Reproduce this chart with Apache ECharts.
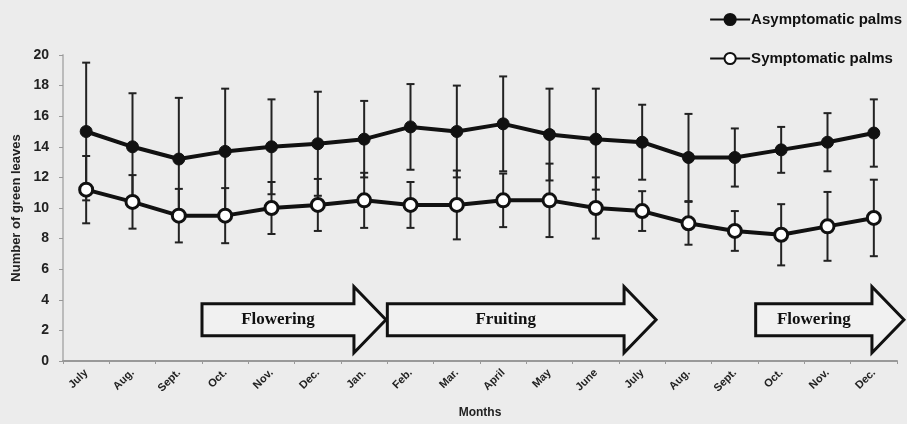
<!DOCTYPE html>
<html lang="en">
<head>
  <meta charset="UTF-8">
  <title>Green leaves</title>
  <script src="https://cdn.jsdelivr.net/npm/echarts@6/dist/echarts.min.js"></script>
  <style>
    html, body { margin: 0; padding: 0; background: #ececec; }
    #chart { width: 907px; height: 424px; }
  </style>
</head>
<body>
  <div id="chart"></div>
  <script>
    // months along the x axis (two seasons)
    var months = ['July', 'Aug.', 'Sept.', 'Oct.', 'Nov.', 'Dec.', 'Jan.', 'Feb.', 'Mar.', 'April',
      'May', 'June', 'July', 'Aug.', 'Sept.', 'Oct.', 'Nov.', 'Dec.']
    // mean number of green leaves and standard deviation
    var asymMean = [15.0, 14.0, 13.2, 13.7, 14.0, 14.2, 14.5, 15.3, 15.0, 15.5, 14.8, 14.5, 14.3, 13.3, 13.3, 13.8, 14.3, 14.9]
    var asymSd = [4.5, 3.5, 4.0, 4.1, 3.1, 3.4, 2.5, 2.8, 3.0, 3.1, 3.0, 3.3, 2.45, 2.85, 1.9, 1.5, 1.9, 2.2]
    var sympMean = [11.2, 10.4, 9.5, 9.5, 10.0, 10.2, 10.5, 10.2, 10.2, 10.5, 10.5, 10.0, 9.8, 9.0, 8.5, 8.25, 8.8, 9.35]
    var sympSd = [2.2, 1.75, 1.75, 1.8, 1.7, 1.7, 1.8, 1.5, 2.25, 1.75, 2.4, 2.0, 1.3, 1.4, 1.3, 2.0, 2.25, 2.5]
    // phenological phases, start / end in category units
    var phases = [
      { name: 'Flowering', from: 2.5, to: 6.47 },
      { name: 'Fruiting', from: 6.5, to: 12.3 },
      { name: 'Flowering', from: 14.45, to: 17.65 }
    ]
    var yTicks = { min: 0, max: 20, interval: 2 }

    function errData(mean, sd) {
      return mean.map(function (m, i) { return [i, m - sd[i], m + sd[i]] })
    }

    function errRender(params, api) {
      var x = api.value(0)
      var lo = api.coord([x, api.value(1)])
      var hi = api.coord([x, api.value(2)])
      var w = 4
      var st = { stroke: '#222', lineWidth: 2 }
      return {
        type: 'group',
        children: [
          { type: 'line', shape: { x1: lo[0], y1: lo[1], x2: hi[0], y2: hi[1] }, style: st },
          { type: 'line', shape: { x1: lo[0] - w, y1: lo[1], x2: lo[0] + w, y2: lo[1] }, style: st },
          { type: 'line', shape: { x1: hi[0] - w, y1: hi[1], x2: hi[0] + w, y2: hi[1] }, style: st }
        ]
      }
    }

    var bold = { fontWeight: 'bold', color: '#222', fontFamily: 'Liberation Sans, sans-serif' }

    var chart = echarts.init(document.getElementById('chart'))
    var option = {
      backgroundColor: '#ececec',
      animation: false,
      grid: { left: 63, right: 10, top: 55, bottom: 57, containLabel: false },
      legend: {
        orient: 'vertical',
        right: 0,
        top: 7,
        itemWidth: 40,
        itemHeight: 14,
        itemGap: 24,
        textStyle: { fontWeight: 'bold', fontSize: 15, color: '#111', fontFamily: 'Liberation Sans, sans-serif', padding: [0, 0, 0, -4] },
        data: ['Asymptomatic palms', 'Symptomatic palms']
      },
      xAxis: {
        type: 'category',
        data: months,
        boundaryGap: true,
        name: 'Months',
        nameLocation: 'middle',
        nameGap: 46,
        nameTextStyle: Object.assign({ fontSize: 12 }, bold),
        axisLine: { lineStyle: { color: '#999', width: 2 } },
        axisTick: { show: true, length: 3, lineStyle: { color: '#999' } },
        axisLabel: Object.assign({ rotate: 45, fontSize: 11, margin: 10, interval: 0 }, bold)
      },
      yAxis: {
        type: 'value',
        min: yTicks.min,
        max: yTicks.max,
        interval: yTicks.interval,
        name: 'Number of green leaves',
        nameLocation: 'middle',
        nameGap: 40,
        nameTextStyle: Object.assign({ fontSize: 13 }, bold),
        axisLine: { show: true, lineStyle: { color: '#bbb', width: 2 } },
        axisTick: { show: true, length: 4, lineStyle: { color: '#999' } },
        axisLabel: Object.assign({ fontSize: 14, margin: 14 }, bold),
        splitLine: { show: false }
      },
      series: [
        {
          type: 'custom',
          name: 'errA',
          renderItem: errRender,
          encode: { x: 0, y: [1, 2] },
          data: errData(asymMean, asymSd),
          z: 1
        },
        {
          type: 'custom',
          name: 'errS',
          renderItem: errRender,
          encode: { x: 0, y: [1, 2] },
          data: errData(sympMean, sympSd),
          z: 1
        },
        {
          type: 'line',
          name: 'Asymptomatic palms',
          data: asymMean,
          symbol: 'circle',
          symbolSize: 12,
          lineStyle: { color: '#111', width: 4 },
          itemStyle: { color: '#111', borderColor: '#111', borderWidth: 1 },
          z: 3
        },
        {
          type: 'line',
          name: 'Symptomatic palms',
          data: sympMean,
          symbol: 'circle',
          symbolSize: 13,
          lineStyle: { color: '#111', width: 4 },
          itemStyle: { color: '#fff', borderColor: '#111', borderWidth: 3 },
          z: 3
        }
      ]
    }
    chart.setOption(option)

    // phase arrows placed from the axis scales
    function xAt(f) {
      var i = Math.floor(f)
      var a = chart.convertToPixel({ xAxisIndex: 0 }, i)
      var b = chart.convertToPixel({ xAxisIndex: 0 }, i + 1)
      return a + (f - i) * (b - a)
    }
    var yc = chart.convertToPixel({ yAxisIndex: 0 }, 2.7)
    var graphics = phases.map(function (p) {
      var x0 = xAt(p.from), x1 = xAt(p.to)
      var hx = x1 - 32
      var pts = [
        [x0, yc - 16], [hx, yc - 16], [hx, yc - 33], [x1, yc],
        [hx, yc + 33], [hx, yc + 16], [x0, yc + 16]
      ]
      return {
        type: 'group',
        children: [
          { type: 'polygon', shape: { points: pts }, style: { fill: '#f1f1f1', stroke: '#111', lineWidth: 3 } },
          {
            type: 'text',
            x: (x0 + hx) / 2,
            y: yc,
            style: {
              text: p.name, fill: '#111', font: 'bold 17px "Liberation Serif", serif',
              align: 'center', verticalAlign: 'middle'
            }
          }
        ]
      }
    })
    chart.setOption({ graphic: graphics })
  </script>
</body>
</html>
